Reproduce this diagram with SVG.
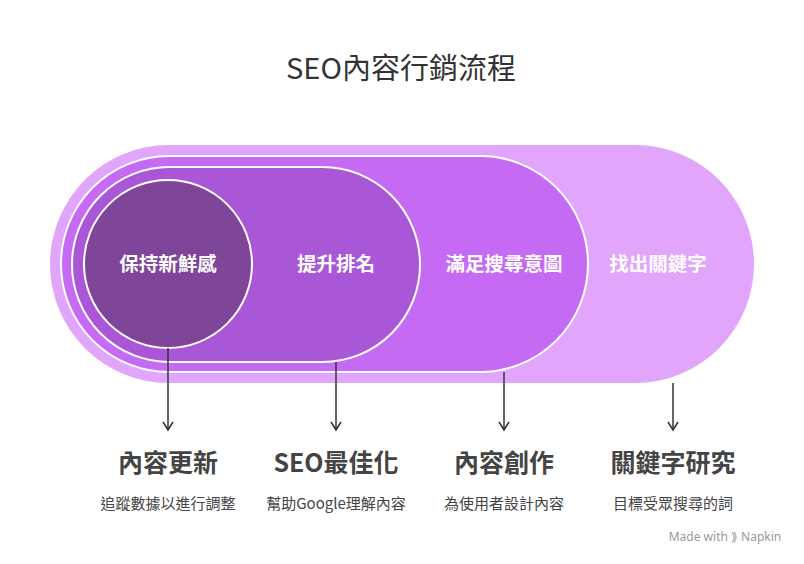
<svg xmlns="http://www.w3.org/2000/svg" width="804" height="564" viewBox="0 0 804 564">
<style>
text{font-family:"Noto Sans CJK TC","Noto Sans",sans-serif;text-anchor:middle}
.in{fill:#fff;font-weight:bold;font-size:19.5px}
.h{fill:#444;font-weight:bold;font-size:25px}
.s{fill:#444;font-size:15px}
.c{stroke:#333;stroke-width:1.5;fill:none}
</style>
<defs><marker id="a" markerWidth="12" markerHeight="12" refX="9" refY="6" orient="auto" markerUnits="userSpaceOnUse"><path d="M1,1 L9,6 L1,11" fill="none" stroke="#333" stroke-width="1.5"/></marker></defs>
<rect width="804" height="564" fill="#fff"/>
<text x="401" y="79" font-size="29" fill="#333">SEO內容行銷流程</text>
<g id="n4"><rect x="50" y="145" width="704" height="238" rx="119" fill="#E1A6FB"/><text class="in" x="658" y="271">找出關鍵字</text></g>
<g id="n3"><rect x="61" y="156" width="527" height="216" rx="108" fill="#C56BF3" stroke="#fff" stroke-width="2"/><text class="in" x="504" y="271">滿足搜尋意圖</text></g>
<g id="n2"><rect x="72" y="167" width="348" height="195" rx="97.5" fill="#A957D6" stroke="#fff" stroke-width="2"/><text class="in" x="336" y="271">提升排名</text></g>
<g id="n1"><circle cx="168" cy="264" r="84" fill="#7E4599" stroke="#fff" stroke-width="2"/><text class="in" x="168" y="271">保持新鮮感</text></g>
<g id="connectors">
<path class="c" d="M168,348V430" marker-end="url(#a)"/>
<path class="c" d="M336,362V430" marker-end="url(#a)"/>
<path class="c" d="M504,372V430" marker-end="url(#a)"/>
<path class="c" d="M673,383V430" marker-end="url(#a)"/>
</g>
<text class="h" x="168" y="472">內容更新</text><text class="s" x="168" y="509">追蹤數據以進行調整</text>
<text class="h" x="336" y="472">SEO最佳化</text><text class="s" x="336" y="509">幫助Google理解內容</text>
<text class="h" x="504" y="472">內容創作</text><text class="s" x="504" y="509">為使用者設計內容</text>
<text class="h" x="673" y="472">關鍵字研究</text><text class="s" x="673" y="509">目標受眾搜尋的詞</text>
<text x="725" y="541" font-size="12" fill="#999" style="text-anchor:middle;font-family:'Noto Sans',sans-serif">Made with ⟫ Napkin</text>
</svg>
